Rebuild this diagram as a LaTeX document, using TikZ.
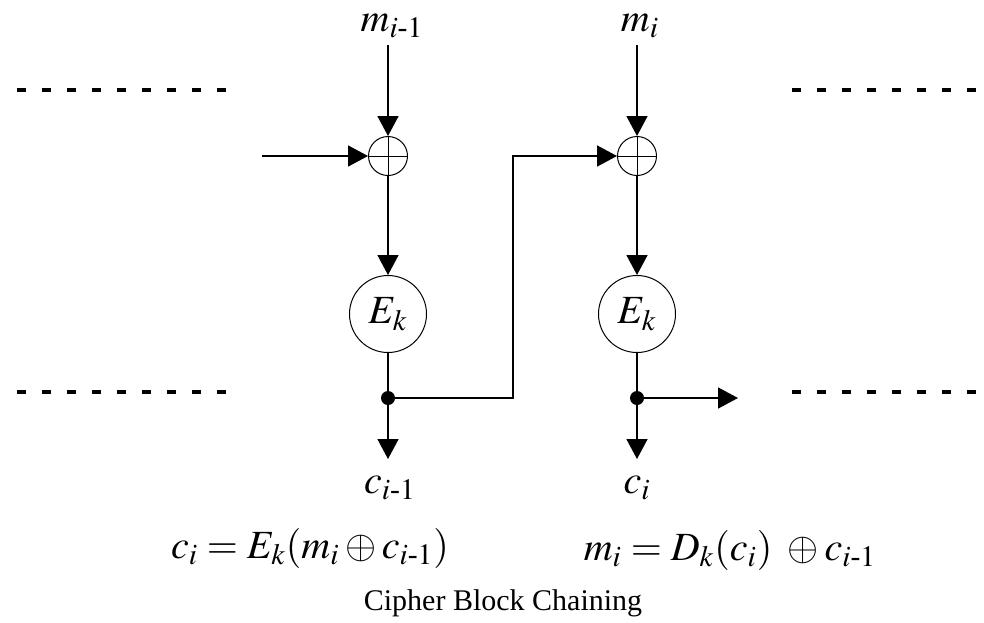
\documentclass[tikz,border=0pt]{standalone}
\usepackage{amsmath}
\usepackage{mathptmx}
\usepackage{fontspec}
\setmainfont{Liberation Serif}
\usetikzlibrary{arrows.meta,positioning}

\begin{document}
\begin{tikzpicture}[
  x=0.5pt,y=-0.5pt,>={Triangle[length=10pt,width=10.5pt]},
  every node/.style={font=\fontsize{15}{18}\selectfont},
  sym/.style={font=\fontsize{20}{24}\selectfont},
  flow/.style={->,line width=0.8pt},
  wire/.style={line width=0.8pt},
  xorop/.style={circle,draw,line width=0.5pt,minimum size=19.5pt,inner sep=0pt,
    path picture={\draw[line width=0.5pt]
      (path picture bounding box.north) -- (path picture bounding box.south)
      (path picture bounding box.west) -- (path picture bounding box.east);}},
  encbox/.style={circle,draw,line width=0.5pt,minimum size=38.5pt,inner sep=0pt,
    font=\fontsize{20}{24}\selectfont},
  junct/.style={circle,fill,minimum size=7pt,inner sep=0pt},
  elide/.style={line width=2pt,dash pattern=on 4.5pt off 8pt}
]
  \useasboundingbox (0,0) rectangle (984,622);

  % Inputs
  \node[sym] (m1) at (392,26) {$m_{i\text{-}1}$};
  \node[sym] (m2) at (640,26) {$m_{i}$};

  % XOR and encryption blocks
  \node[xorop]  (xor1) at (388,156) {};
  \node[xorop]  (xor2) at (637,156) {};
  \node[encbox] (enc1) at (388,314) {$E_k$};
  \node[encbox] (enc2) at (637,314) {$E_k$};
  \node[junct]  (dot1) at (388,398) {};
  \node[junct]  (dot2) at (637,398) {};

  % Outputs
  \node[sym] (c1) at (390,488) {$c_{i\text{-}1}$};
  \node[sym] (c2) at (637,488) {$c_{i}$};

  % Free ends
  \coordinate (prev) at (262,156);
  \coordinate (next) at (738,398);
  \coordinate (bend) at (513,398);
  \coordinate (c1tip) at (388,459);
  \coordinate (c2tip) at (637,459);

  % Chain
  \draw[flow] (m1.south -| xor1) -- (xor1);
  \draw[flow] (m2.south -| xor2) -- (xor2);
  \draw[flow] (prev) -- (xor1);
  \draw[flow] (xor1) -- (enc1);
  \draw[flow] (xor2) -- (enc2);
  \draw[wire] (enc1) -- (dot1);
  \draw[wire] (enc2) -- (dot2);
  \draw[flow] (dot1) -- (c1tip);
  \draw[flow] (dot2) -- (c2tip);
  \draw[flow] (dot1) -- (bend) |- (xor2);
  \draw[flow] (dot2) -- (next);

  % Elided blocks
  \draw[elide] (17,90) -- (226,90);
  \draw[elide] (17,392) -- (226,392);
  \draw[elide] (792,90) -- (984,90);
  \draw[elide] (792,392) -- (984,392);

  % Equations and caption
  \node[sym] (encEq) at (310,548) {$c_i = E_k(m_i \oplus c_{i\text{-}1})$};
  \node[sym] (decEq) at (730,550) {$m_i = D_k(c_i)\ \oplus c_{i\text{-}1}$};
  \node (title) at (503,603) {Cipher Block Chaining};
\end{tikzpicture}
\end{document}
